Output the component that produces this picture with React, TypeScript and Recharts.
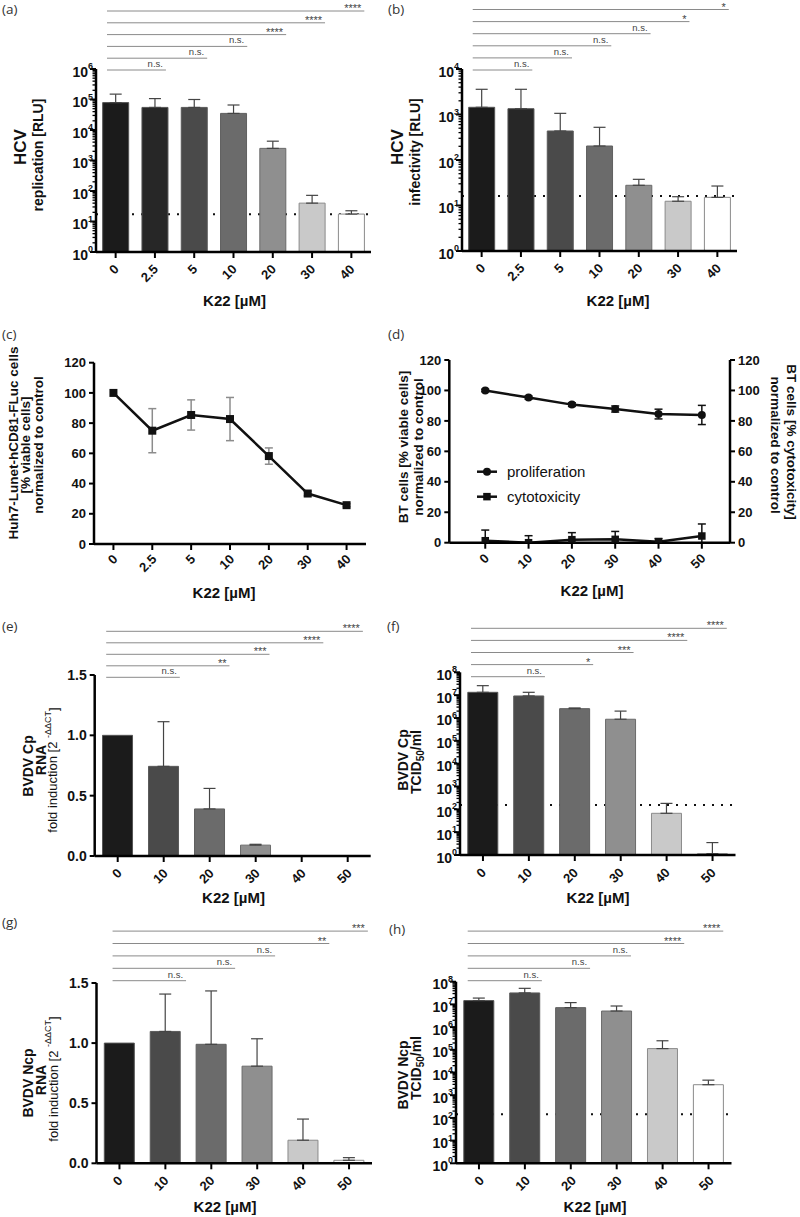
import React from 'react';
import { ComposedChart, Bar, Line, XAxis, YAxis, ErrorBar, ReferenceLine, Cell } from 'recharts';

const FF = "'Liberation Sans', Arial, Helvetica, sans-serif";

// ---------- categories ----------
const hcvDoses = ['0', '2.5', '5', '10', '20', '30', '40'];
const bvdvDoses = ['0', '10', '20', '30', '40', '50'];
const btDoses = [0, 10, 20, 30, 40, 50];

const hcvFills = ['#1b1b1b', '#272727', '#4a4a4a', '#6b6b6b', '#8f8f8f', '#c9c9c9', '#ffffff'];
const hcvStrokes = ['#555', '#555', '#5a5a5a', '#5f5f5f', '#6a6a6a', '#8a8a8a', '#8a8a8a'];
const bvdvFills = ['#1b1b1b', '#4a4a4a', '#6b6b6b', '#8f8f8f', '#c9c9c9', '#ffffff'];
const bvdvStrokes = ['#555', '#5a5a5a', '#5f5f5f', '#6a6a6a', '#8a8a8a', '#8a8a8a'];

// ---------- (a) HCV replication ----------
const hcvReplicationMean = [79000, 55000, 55000, 35000, 2500, 40, 17.5];
const hcvReplicationSd = [71000, 52000, 45000, 31000, 1800, 32, 5];
const hcvReplicationLimit = 17.2;
const sigALabels = ['n.s.', 'n.s.', 'n.s.', '****', '****', '****'];
const sigAEnds = [1.28, 2.33, 3.35, 4.34, 5.33, 6.33];

// ---------- (b) HCV infectivity ----------
const hcvInfectivityMean = [1440, 1340, 434, 203, 27.8, 12.4, 15.1];
const hcvInfectivitySd = [2140, 2240, 626, 320, 9.8, 3.2, 11.7];
const hcvInfectivityLimit = 16.2;
const sigBLabels = ['n.s.', 'n.s.', 'n.s.', 'n.s.', '*', '*'];
const sigBEnds = [1.29, 2.3, 3.3, 4.3, 5.29, 6.29];

// ---------- (c) Huh7 viability ----------
const huhViabilityMean = [100, 75, 85.4, 82.7, 58.2, 33.4, 25.7];
const huhViabilitySd = [0, 14.6, 10, 14.3, 5.4, 1.5, 1];

// ---------- (d) BT cells ----------
const btProliferation = [100, 95.3, 90.7, 87.8, 84.5, 83.9];
const btProliferationSd = [0.8, 1, 1.2, 2, 3.2, 6.3];
const btCytotoxicity = [1.3, 0, 2.0, 2.2, 0.7, 4.4];
const btCytotoxicitySd = [7, 4.6, 4.6, 5.2, 2, 7.9];

// ---------- (e) BVDV Cp RNA ----------
const cpRnaMean = [1.0, 0.743, 0.39, 0.09, 0, 0];
const cpRnaSd = [0, 0.37, 0.17, 0.007, 0, 0];
const sigELabels = ['n.s.', '**', '***', '****', '****'];
const sigEEnds = [1.35, 2.43, 3.3, 4.47, 5.33];

// ---------- (f) BVDV Cp titre ----------
const cpTitreMean = [13300000, 9200000, 2560000, 880000, 67, 1.14];
const cpTitreSd = [12700000, 4100000, 190000, 1120000, 115, 2.36];
const cpTitreLimit = 155;
const sigFLabels = ['n.s.', '*', '***', '****', '****'];
const sigFEnds = [1.35, 2.4, 3.28, 4.45, 5.31];

// ---------- (g) BVDV Ncp RNA ----------
const ncpRnaMean = [1.0, 1.097, 0.99, 0.808, 0.192, 0.025];
const ncpRnaSd = [0, 0.311, 0.444, 0.228, 0.176, 0.022];
const sigGLabels = ['n.s.', 'n.s.', 'n.s.', '**', '***'];
const sigGEnds = [1.45, 2.52, 3.39, 4.57, 5.41];

// ---------- (h) BVDV Ncp titre ----------
const ncpTitreMean = [14700000, 32000000, 7200000, 5100000, 113000, 2900];
const ncpTitreSd = [4300000, 19000000, 4800000, 3400000, 137000, 1700];
const ncpTitreLimit = 144;
const sigHLabels = ['n.s.', 'n.s.', 'n.s.', '****', '****'];
const sigHEnds = [1.37, 2.42, 3.31, 4.47, 5.32];

// ---------- axis ticks ----------
const pctTicks = [0, 20, 40, 60, 80, 100, 120];
const foldTicks = [0, 0.5, 1.0, 1.5];
function logTicks(maxExp: number): number[] {
  const t: number[] = [];
  for (let e = 0; e < maxExp; e++) for (let m = 1; m < 10; m++) t.push(m * Math.pow(10, e));
  t.push(Math.pow(10, maxExp));
  return t;
}

type Rect = { x0: number; x1: number; y0: number; y1: number };
type Box = { left: number; top: number; w: number; h: number };

const LogTick = (p: any) => {
  const { x, y, payload } = p;
  const v = Number(payload.value);
  const e = Math.log10(v);
  const major = Math.abs(e - Math.round(e)) < 1e-6;
  if (!major) return <line x1={x} x2={x - 3.5} y1={y} y2={y} stroke="#000" strokeWidth={1.3} />;
  return (
    <g>
      <line x1={x} x2={x - 6} y1={y} y2={y} stroke="#000" strokeWidth={2} />
      <text x={x - 3} y={y + 7.5} textAnchor="end" fontFamily={FF} fontWeight="bold" fontSize={14} fill="#111">
        10<tspan dy={-7.5} fontSize={9}>{Math.round(e)}</tspan>
      </text>
    </g>
  );
};

const LinTick = (p: any) => {
  const { x, y, payload, side, fmt, fs } = p;
  const s = side === 'right' ? 1 : -1;
  return (
    <g>
      <line x1={x} x2={x + s * 5} y1={y} y2={y} stroke="#000" strokeWidth={2} />
      <text x={x + s * 8} y={y + fs * 0.36} textAnchor={side === 'right' ? 'start' : 'end'} fontFamily={FF} fontWeight="bold" fontSize={fs} fill="#111">
        {fmt(payload.value)}
      </text>
    </g>
  );
};

const XTick = (p: any) => {
  const { x, y, payload, dx, dy } = p;
  const ax = x + dx;
  const ay = y + dy;
  return (
    <g>
      <line x1={x} x2={x} y1={y} y2={y + 6} stroke="#000" strokeWidth={2} />
      <text x={ax} y={ay} transform={`rotate(-45 ${ax} ${ay})`} textAnchor="end" fontFamily={FF} fontWeight="bold" fontSize={13} fill="#111">
        {payload.value}
      </text>
    </g>
  );
};

const intFmt = (v: number) => String(v);
const oneFmt = (v: number) => Number(v).toFixed(1);

type Sig = { start: number; ends: number[]; labels: string[]; offset: number; spacing: number };

type BarProps = {
  box: Box; plot: Rect; cats: string[]; means: number[]; sds: number[]; fills: string[]; strokes: string[];
  log: boolean; domain: [number, number]; ticks: number[]; limit?: number; sig: Sig; xdx: number; xdy: number;
};

function BarPanel(pr: BarProps) {
  const { box, plot, cats, means, sds, fills, strokes, log, domain, ticks, limit, sig, xdx, xdy } = pr;
  const rows = cats.map((c, i) => ({ cat: c, v: means[i], err: sds[i] > 0 ? [0, sds[i]] : null }));
  const n = cats.length;
  const H = plot.y1 - plot.y0;
  const step = (plot.x1 - plot.x0) / n;
  const base = sig.offset / sig.spacing;
  const margin = { top: plot.y0 - box.top, right: box.left + box.w - plot.x1, bottom: 0, left: 0 };
  const xh = box.top + box.h - plot.y1;
  const yw = plot.x0 - box.left;
  const yScale = log ? 'log' : 'linear';
  return (
    <>
      {limit !== undefined && (
        <div style={{ position: 'absolute', left: box.left, top: box.top }}>
          <ComposedChart width={box.w} height={box.h} data={rows} margin={margin}>
            <XAxis dataKey="cat" height={xh} tick={false} tickLine={false} axisLine={false} />
            <YAxis width={yw} type="number" scale={yScale} domain={domain} allowDataOverflow tick={false} tickLine={false} axisLine={false} />
            <ReferenceLine y={limit} stroke="#111" strokeWidth={2} strokeDasharray="2 7" />
          </ComposedChart>
        </div>
      )}
      <div style={{ position: 'absolute', left: box.left, top: box.top }}>
        <ComposedChart width={box.w} height={box.h} data={rows} barCategoryGap="17%" margin={margin}>
          <XAxis
            dataKey="cat"
            height={xh}
            interval={0}
            tickSize={0}
            tickMargin={0}
            tickLine={false}
            axisLine={{ stroke: '#000', strokeWidth: 2.5 }}
            tick={(p: any) => <XTick {...p} dx={xdx} dy={xdy} />}
          />
          <XAxis
            xAxisId="pos"
            type="number"
            domain={[0, n - 1]}
            padding={{ left: step / 2, right: step / 2 }}
            allowDataOverflow
            hide
          />
          <YAxis
            width={yw}
            type="number"
            scale={yScale}
            domain={domain}
            allowDataOverflow
            ticks={ticks}
            interval={0}
            tickSize={0}
            tickMargin={0}
            tickLine={false}
            axisLine={{ stroke: '#000', strokeWidth: 2.5 }}
            tick={log ? LogTick : (p: any) => <LinTick {...p} side="left" fmt={oneFmt} fs={14} />}
          />
          <YAxis yAxisId="sig" type="number" domain={[base - H / sig.spacing, base]} allowDataOverflow hide />
          <Bar dataKey="v" isAnimationActive={false}>
            {rows.map((r, i) => (
              <Cell key={'c' + i} fill={fills[i]} stroke={strokes[i]} strokeWidth={1} />
            ))}
            <ErrorBar dataKey="err" width={6} stroke="#444" strokeWidth={1.2} isAnimationActive={false} />
          </Bar>
          {sig.ends.map((e, i) => {
            const lab = sig.labels[i];
            const star = lab.indexOf('*') >= 0;
            return (
              <ReferenceLine
                key={'s' + i}
                xAxisId="pos"
                yAxisId="sig"
                ifOverflow="visible"
                segment={[{ x: sig.start, y: i }, { x: e, y: i }]}
                stroke="#8a8a8a"
                strokeWidth={1}
                label={(lp: any) => {
                  const vb = lp.viewBox || { x: 0, y: 0, width: 0 };
                  return (
                    <text
                      x={vb.x + vb.width - 3}
                      y={vb.y + (star ? 1 : -3)}
                      textAnchor="end"
                      fontFamily={FF}
                      fontSize={star ? 11 : 9.5}
                      fill="#444"
                    >
                      {lab}
                    </text>
                  );
                }}
              />
            );
          })}
        </ComposedChart>
      </div>
    </>
  );
}

const squareDot = (size: number, fill: string) => (p: any) =>
  p.cx == null || p.cy == null ? <g key={'n' + p.index} /> : (
    <rect key={'q' + p.index} x={p.cx - size / 2} y={p.cy - size / 2} width={size} height={size} fill={fill} />
  );
const circleDot = (r: number, fill: string) => (p: any) =>
  p.cx == null || p.cy == null ? <g key={'n' + p.index} /> : <circle key={'o' + p.index} cx={p.cx} cy={p.cy} r={r} fill={fill} />;

function PanelC() {
  const box: Box = { left: 0, top: 330, w: 400, h: 270 };
  const plot: Rect = { x0: 94, x1: 366, y0: 362.7, y1: 544 };
  const half = (plot.x1 - plot.x0) / hcvDoses.length / 2;
  const rows = hcvDoses.map((c, i) => ({ cat: c, v: huhViabilityMean[i], err: huhViabilitySd[i] > 0 ? huhViabilitySd[i] : null }));
  return (
    <div style={{ position: 'absolute', left: box.left, top: box.top }}>
      <ComposedChart
        width={box.w}
        height={box.h}
        data={rows}
        margin={{ top: plot.y0 - box.top, right: box.left + box.w - plot.x1, bottom: 0, left: 0 }}
      >
        <XAxis
          dataKey="cat"
          height={box.top + box.h - plot.y1}
          padding={{ left: half, right: half }}
          interval={0}
          tickSize={0}
          tickMargin={0}
          tickLine={false}
          axisLine={{ stroke: '#000', strokeWidth: 2.5 }}
          tick={(p: any) => <XTick {...p} dx={5} dy={16} />}
        />
        <YAxis
          width={plot.x0 - box.left}
          type="number"
          domain={[0, 120]}
          allowDataOverflow
          ticks={pctTicks}
          interval={0}
          tickSize={0}
          tickMargin={0}
          tickLine={false}
          axisLine={{ stroke: '#000', strokeWidth: 2.5 }}
          tick={(p: any) => <LinTick {...p} side="left" fmt={intFmt} fs={13} />}
        />
        <Line dataKey="v" stroke="#111" strokeWidth={2.5} dot={squareDot(8, '#111')} isAnimationActive={false}>
          <ErrorBar dataKey="err" width={4} stroke="#8c8c8c" strokeWidth={1.5} isAnimationActive={false} />
        </Line>
      </ComposedChart>
    </div>
  );
}

function PanelD() {
  const box: Box = { left: 400, top: 330, w: 400, h: 270 };
  const plot: Rect = { x0: 449.3, x1: 730, y0: 360, y1: 542.7 };
  const rows = btDoses.map((d, i) => ({
    x: d,
    p: btProliferation[i],
    pe: btProliferationSd[i],
    c: btCytotoxicity[i],
    ce: [Math.min(btCytotoxicitySd[i], btCytotoxicity[i]), btCytotoxicitySd[i]],
  }));
  return (
    <div style={{ position: 'absolute', left: box.left, top: box.top }}>
      <ComposedChart width={box.w} height={box.h} data={rows} margin={{ top: plot.y0 - box.top, right: 0, bottom: 0, left: 0 }}>
        <XAxis
          dataKey="x"
          type="number"
          domain={[-8.3, 56.5]}
          allowDataOverflow
          ticks={btDoses}
          height={box.top + box.h - plot.y1}
          interval={0}
          tickSize={0}
          tickMargin={0}
          tickLine={false}
          axisLine={{ stroke: '#000', strokeWidth: 2.5 }}
          tick={(p: any) => <XTick {...p} dx={4.5} dy={16.5} />}
        />
        <YAxis
          yAxisId="left"
          width={plot.x0 - box.left}
          type="number"
          domain={[0, 120]}
          allowDataOverflow
          ticks={pctTicks}
          interval={0}
          tickSize={0}
          tickMargin={0}
          tickLine={false}
          axisLine={{ stroke: '#000', strokeWidth: 2.5 }}
          tick={(p: any) => <LinTick {...p} side="left" fmt={intFmt} fs={13} />}
        />
        <YAxis
          yAxisId="right"
          orientation="right"
          width={box.left + box.w - plot.x1}
          type="number"
          domain={[0, 120]}
          allowDataOverflow
          ticks={pctTicks}
          interval={0}
          tickSize={0}
          tickMargin={0}
          tickLine={false}
          axisLine={{ stroke: '#000', strokeWidth: 2.5 }}
          tick={(p: any) => <LinTick {...p} side="right" fmt={intFmt} fs={13} />}
        />
        <Line yAxisId="left" dataKey="p" stroke="#111" strokeWidth={2.5} dot={circleDot(4, '#111')} isAnimationActive={false}>
          <ErrorBar dataKey="pe" width={4} stroke="#111" strokeWidth={1.5} isAnimationActive={false} />
        </Line>
        <Line yAxisId="right" dataKey="c" stroke="#111" strokeWidth={2.5} dot={squareDot(7.5, '#111')} isAnimationActive={false}>
          <ErrorBar dataKey="ce" width={4} stroke="#111" strokeWidth={1.5} isAnimationActive={false} />
        </Line>
      </ComposedChart>
    </div>
  );
}

const VLabel = (p: { cx: number; cy: number; size: number; rot?: number; bold?: boolean; children: React.ReactNode }) => (
  <text
    transform={`translate(${p.cx} ${p.cy}) rotate(${p.rot ?? -90})`}
    textAnchor="middle"
    dominantBaseline="central"
    fontFamily={FF}
    fontWeight={p.bold === false ? 'normal' : 'bold'}
    fontSize={p.size}
    fill="#111"
  >
    {p.children}
  </text>
);

const Letter = (p: { x: number; y: number; t: string }) => (
  <text x={p.x} y={p.y} fontFamily="'Open Sans', sans-serif" fontSize={13.5} fill="#333">
    {p.t}
  </text>
);

const XTitle = (p: { x: number; y: number }) => (
  <text x={p.x} y={p.y} textAnchor="middle" fontFamily={FF} fontWeight="bold" fontSize={15} fill="#111">
    K22 [µM]
  </text>
);

function Overlay() {
  return (
    <svg width={800} height={1217} style={{ position: 'absolute', left: 0, top: 0, pointerEvents: 'none' }}>
      <Letter x={2} y={14} t="(a)" />
      <Letter x={388} y={14} t="(b)" />
      <Letter x={2} y={339} t="(c)" />
      <Letter x={388} y={339} t="(d)" />
      <Letter x={2} y={631} t="(e)" />
      <Letter x={387} y={631} t="(f)" />
      <Letter x={2} y={927} t="(g)" />
      <Letter x={389} y={934} t="(h)" />

      <XTitle x={234.5} y={306} />
      <XTitle x={618} y={306} />
      <XTitle x={224} y={598} />
      <XTitle x={592} y={596} />
      <XTitle x={233.5} y={903} />
      <XTitle x={598} y={903} />
      <XTitle x={225} y={1212} />
      <XTitle x={595} y={1212} />

      <VLabel cx={20} cy={147} size={17}>HCV</VLabel>
      <VLabel cx={37.5} cy={155} size={14}>replication [RLU]</VLabel>
      <VLabel cx={397} cy={147} size={17}>HCV</VLabel>
      <VLabel cx={415} cy={152} size={14}>infectivity [RLU]</VLabel>

      <VLabel cx={13.5} cy={443} size={13.5}>Huh7-Lunet-hCD81-FLuc cells</VLabel>
      <VLabel cx={25.5} cy={445} size={13.5}>[% viable cells]</VLabel>
      <VLabel cx={38.5} cy={445} size={13.5}>normalized to control</VLabel>

      <VLabel cx={403} cy={447} size={13.5}>BT cells [% viable cells]</VLabel>
      <VLabel cx={418.5} cy={447} size={13.5}>normalized to control</VLabel>
      <VLabel cx={791.5} cy={442} size={13.5} rot={90}>BT cells [% cytotoxicity]</VLabel>
      <VLabel cx={775} cy={445} size={13.5} rot={90}>normalized to control</VLabel>

      <VLabel cx={28.3} cy={766} size={14}>BVDV Cp</VLabel>
      <VLabel cx={40.5} cy={760} size={14}>RNA</VLabel>
      <VLabel cx={52.5} cy={770} size={13} bold={false}>
        fold induction [2 <tspan dy={-5} fontSize={9}>-ΔΔCT</tspan><tspan dy={5}>]</tspan>
      </VLabel>
      <VLabel cx={403} cy={760} size={14}>BVDV Cp</VLabel>
      <VLabel cx={416} cy={762} size={14}>
        TCID<tspan dy={4} fontSize={10}>50</tspan><tspan dy={-4}>/ml</tspan>
      </VLabel>

      <VLabel cx={28.3} cy={1083} size={14}>BVDV Ncp</VLabel>
      <VLabel cx={40.7} cy={1080} size={14}>RNA</VLabel>
      <VLabel cx={53.3} cy={1079} size={13} bold={false}>
        fold induction [2 <tspan dy={-5} fontSize={9}>-ΔΔCT</tspan><tspan dy={5}>]</tspan>
      </VLabel>
      <VLabel cx={403} cy={1075} size={14}>BVDV Ncp</VLabel>
      <VLabel cx={416} cy={1068} size={14}>
        TCID<tspan dy={4} fontSize={10}>50</tspan><tspan dy={-4}>/ml</tspan>
      </VLabel>

      {/* legend of (d) */}
      <line x1={477} x2={497} y1={471.7} y2={471.7} stroke="#111" strokeWidth={2.5} />
      <circle cx={487} cy={471.7} r={4} fill="#111" />
      <text x={507} y={476.5} fontFamily={FF} fontSize={15} fill="#111">proliferation</text>
      <line x1={477} x2={497} y1={496.7} y2={496.7} stroke="#111" strokeWidth={2.5} />
      <rect x={483.2} y={492.9} width={7.5} height={7.5} fill="#111" />
      <text x={507} y={501.5} fontFamily={FF} fontSize={15} fill="#111">cytotoxicity</text>
    </svg>
  );
}

export default function App() {
  return (
    <div style={{ position: 'absolute', left: 0, top: 0, width: 800, height: 1217, background: '#fff', overflow: 'hidden' }}>
      <BarPanel
        box={{ left: 0, top: 0, w: 400, h: 300 }}
        plot={{ x0: 96, x1: 371, y0: 69, y1: 252 }}
        cats={hcvDoses}
        means={hcvReplicationMean}
        sds={hcvReplicationSd}
        fills={hcvFills}
        strokes={hcvStrokes}
        log
        domain={[1, 1e6]}
        ticks={logTicks(6)}
        limit={hcvReplicationLimit}
        sig={{ start: -0.22, ends: sigAEnds, labels: sigALabels, offset: 1, spacing: 11.8 }}
        xdx={4}
        xdy={18}
      />
      <BarPanel
        box={{ left: 400, top: 0, w: 400, h: 300 }}
        plot={{ x0: 462, x1: 737, y0: 69, y1: 251 }}
        cats={hcvDoses}
        means={hcvInfectivityMean}
        sds={hcvInfectivitySd}
        fills={hcvFills}
        strokes={hcvStrokes}
        log
        domain={[1, 1e4]}
        ticks={logTicks(4)}
        limit={hcvInfectivityLimit}
        sig={{ start: -0.227, ends: sigBEnds, labels: sigBLabels, offset: 1, spacing: 12.1 }}
        xdx={4.5}
        xdy={18}
      />
      <PanelC />
      <PanelD />
      <BarPanel
        box={{ left: 0, top: 612, w: 400, h: 296 }}
        plot={{ x0: 94.7, x1: 370.7, y0: 675, y1: 856 }}
        cats={bvdvDoses}
        means={cpRnaMean}
        sds={cpRnaSd}
        fills={bvdvFills}
        strokes={bvdvStrokes}
        log={false}
        domain={[0, 1.5]}
        ticks={foldTicks}
        sig={{ start: -0.25, ends: sigEEnds, labels: sigELabels, offset: 2.3, spacing: 11.5 }}
        xdx={5}
        xdy={18}
      />
      <BarPanel
        box={{ left: 400, top: 612, w: 400, h: 296 }}
        plot={{ x0: 460, x1: 735.5, y0: 672.3, y1: 855 }}
        cats={bvdvDoses}
        means={cpTitreMean}
        sds={cpTitreSd}
        fills={bvdvFills}
        strokes={bvdvStrokes}
        log
        domain={[1, 1e8]}
        ticks={logTicks(8)}
        limit={cpTitreLimit}
        sig={{ start: -0.26, ends: sigFEnds, labels: sigFLabels, offset: 4.4, spacing: 12.1 }}
        xdx={4}
        xdy={18.5}
      />
      <BarPanel
        box={{ left: 0, top: 915, w: 400, h: 302 }}
        plot={{ x0: 96.5, x1: 372, y0: 983, y1: 1163.3 }}
        cats={bvdvDoses}
        means={ncpRnaMean}
        sds={ncpRnaSd}
        fills={bvdvFills}
        strokes={bvdvStrokes}
        log={false}
        domain={[0, 1.5]}
        ticks={foldTicks}
        sig={{ start: -0.15, ends: sigGEnds, labels: sigGLabels, offset: -2.3, spacing: 12.4 }}
        xdx={4}
        xdy={18}
      />
      <BarPanel
        box={{ left: 400, top: 915, w: 400, h: 302 }}
        plot={{ x0: 456, x1: 731.5, y0: 981.7, y1: 1163.3 }}
        cats={bvdvDoses}
        means={ncpTitreMean}
        sds={ncpTitreSd}
        fills={bvdvFills}
        strokes={bvdvStrokes}
        log
        domain={[1, 1e8]}
        ticks={logTicks(8)}
        limit={ncpTitreLimit}
        sig={{ start: -0.245, ends: sigHEnds, labels: sigHLabels, offset: -1, spacing: 12.4 }}
        xdx={6}
        xdy={18}
      />
      <Overlay />
    </div>
  );
}
